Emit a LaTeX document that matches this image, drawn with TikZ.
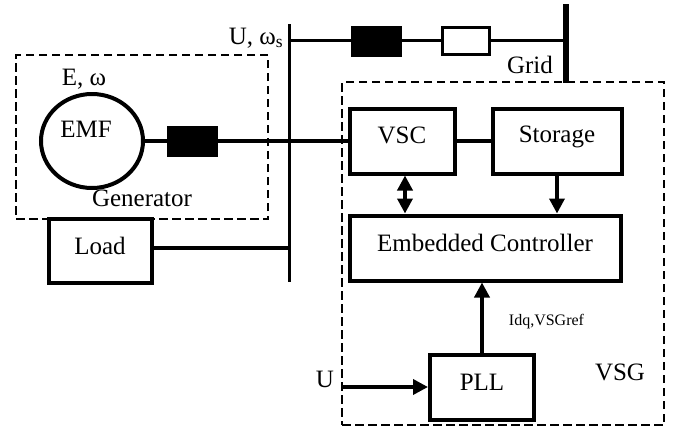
\documentclass[tikz,border=0pt]{standalone}
\usepackage{fontspec}
\setmainfont{Liberation Serif}
\usetikzlibrary{shapes.geometric,arrows.meta}
\tikzset{
  thick line/.style={line width=3.6pt},
  box/.style={draw,line width=4pt,rectangle,inner sep=0pt},
  blackbox/.style={draw,fill=black,line width=1pt,rectangle,inner sep=0pt,minimum width=50pt,minimum height=30pt},
  dashbox/.style={draw,line width=2.5pt,rectangle,inner sep=0pt,dash pattern=on 8.5pt off 4.5pt},
  txt/.style={inner sep=0pt,font=\fontsize{25}{27}\selectfont},
  small/.style={inner sep=0pt,font=\fontsize{16}{18}\selectfont},
  head/.style={-{Triangle[length=15pt,width=15pt]}},
  headboth/.style={{Triangle[length=15pt,width=15pt]}-{Triangle[length=15pt,width=15pt]}},
}
\newcommand{\boxat}[7]{\node[box,minimum width=#4pt,minimum height=#5pt,label={[txt,yshift=#6pt]center:#7}] (#1) at (#2,#3) {};}
\begin{document}
\begin{tikzpicture}[x=1pt,y=-1pt]
\useasboundingbox (0,0) rectangle (675,432);
% dashed regions
\node[dashbox,minimum width=252pt,minimum height=164pt] (gen) at (142,137) {};
\node[dashbox,minimum width=322pt,minimum height=343pt] (vsg) at (503,253.5) {};
% buses
\coordinate (busTop) at (289.5,24);
\coordinate (busBot) at (289.5,282);
\draw[line width=3.8pt] (busTop) -- (busBot);
\coordinate (gridTop) at (566,4);
\coordinate (gridBot) at (566,83);
\draw[line width=5.5pt] (gridTop) -- (gridBot);
\coordinate (topL) at (289.5,40.5);
\coordinate (topR) at (566,40.5);
\coordinate (uIn) at (342,387);
% blocks
\node[draw,ellipse,line width=4pt,minimum width=102pt,minimum height=94pt,inner sep=0pt,label={[txt,xshift=-6pt,yshift=12pt]center:EMF}] (emf) at (92,141) {};
\boxat{vsc}{402}{141}{105}{65}{6}{VSC}
\boxat{storage}{557}{141}{129}{65}{4}{Storage}
\boxat{ec}{485}{248}{271}{65}{5}{Embedded Controller}
\boxat{pll}{482}{387}{104}{65}{5}{PLL}
\boxat{load}{100}{251}{103}{64}{5}{Load}
% connectors
\draw[thick line] (emf.east) -- (vsc.west);
\draw[thick line] (vsc.east) -- (storage.west);
\draw[thick line] (topL) -- (topR);
\draw[thick line] (load.east |- 0,248) -- (busBot |- 0,248);
\draw[thick line,headboth] (vsc.south -| 405,0) -- (ec.north -| 405,0);
\draw[thick line,head] (storage.south) -- (ec.north -| storage.south);
\draw[thick line,head] (pll.north) -- (ec.south -| pll.north);
\draw[thick line,head] (uIn) -- (pll.west);
% series elements
\node[blackbox] (z1) at (192.5,141) {};
\node[blackbox] (z2) at (376,41) {};
\node[box,fill=white,line width=3.2pt,minimum width=47pt,minimum height=27pt] (z3) at (466,41) {};
% labels
\node[txt] (lUw) at (256,38) {U, ω\textsubscript{s}};
\node[txt] (lEw) at (84,79) {E, ω};
\node[txt] (lGen) at (142,198) {Generator};
\node[txt] (lGrid) at (530,65) {Grid};
\node[txt] (lU) at (325,379) {U};
\node[txt] (lVsg) at (620,372) {VSG};
\node[small] (lIdq) at (546.5,322) {Idq,VSGref};
\end{tikzpicture}
\end{document}
